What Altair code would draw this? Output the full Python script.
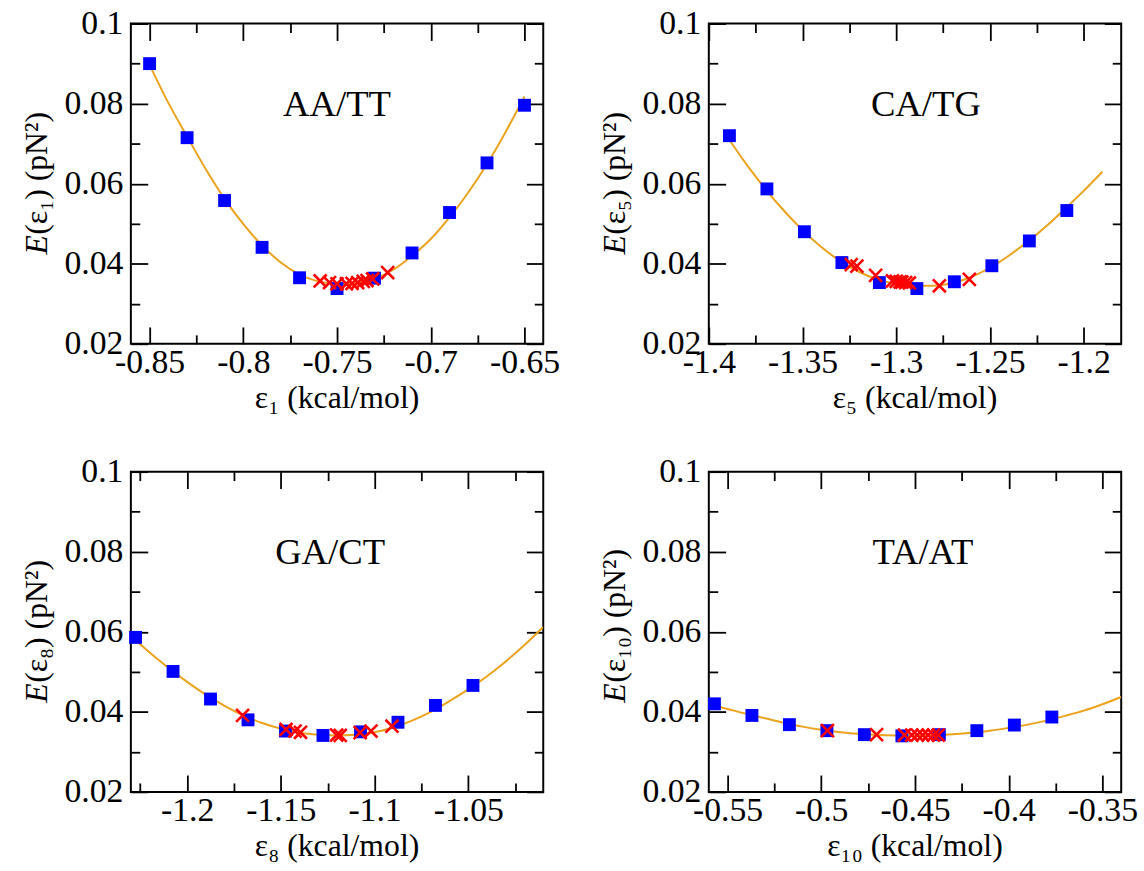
import altair as alt
import pandas as pd

FONT = "Liberation Serif"
W, H = 416, 323

# ---------------- data ----------------
# Panel 1: AA/TT
p1_sq_x = [-0.85, -0.83, -0.81, -0.79, -0.77, -0.75, -0.73, -0.71, -0.69, -0.67, -0.65]
p1_sq_y = [0.0900, 0.0715, 0.0558, 0.0441, 0.0365, 0.0338, 0.0364, 0.0427, 0.0528, 0.0652, 0.0796]
p1_cr_x = [-0.759, -0.754, -0.750, -0.745, -0.742, -0.739, -0.736, -0.734, -0.731, -0.723]
p1_cr_y = [0.0357, 0.0353, 0.0350, 0.0350, 0.0351, 0.0353, 0.0356, 0.0358, 0.0362, 0.0378]
p1_fit_x = [-0.85, -0.84, -0.83, -0.82, -0.81, -0.80, -0.79, -0.78, -0.77, -0.76, -0.75,
            -0.74, -0.73, -0.72, -0.71, -0.70, -0.69, -0.68, -0.67, -0.66, -0.65]
p1_fit_y = [0.0897, 0.0802, 0.0718, 0.0636, 0.0562, 0.0499, 0.0446, 0.0403, 0.0373, 0.0356, 0.0350,
            0.0352, 0.0363, 0.0385, 0.0420, 0.0462, 0.0516, 0.0578, 0.0649, 0.0730, 0.0818]

# Panel 2: CA/TG
p2_sq_x = [-1.389, -1.369, -1.349, -1.329, -1.309, -1.289, -1.269, -1.249, -1.229, -1.209]
p2_sq_y = [0.0720, 0.0587, 0.0480, 0.0403, 0.0353, 0.0338, 0.0355, 0.0395, 0.0457, 0.0533]
p2_cr_x = [-1.324, -1.321, -1.311, -1.302, -1.300, -1.298, -1.297, -1.295, -1.293, -1.277, -1.261]
p2_cr_y = [0.0398, 0.0394, 0.0371, 0.0357, 0.0356, 0.0355, 0.0354, 0.0353, 0.0352, 0.0345, 0.0361]
p2_fit_x = [-1.39, -1.38, -1.37, -1.36, -1.35, -1.34, -1.33, -1.32, -1.31, -1.30, -1.29,
            -1.28, -1.27, -1.26, -1.25, -1.24, -1.23, -1.22, -1.21, -1.20, -1.19]
p2_fit_y = [0.0716, 0.0649, 0.0588, 0.0533, 0.0484, 0.0442, 0.0407, 0.0380, 0.0361, 0.0350, 0.0345,
            0.0345, 0.0352, 0.0367, 0.0390, 0.0420, 0.0455, 0.0494, 0.0537, 0.0582, 0.0630]

# Panel 3: GA/CT
p3_sq_x = [-1.2275, -1.2075, -1.1875, -1.1675, -1.1475, -1.1275, -1.1075, -1.0875, -1.0675, -1.0475]
p3_sq_y = [0.0586, 0.0501, 0.0432, 0.0380, 0.0352, 0.0341, 0.0350, 0.0374, 0.0416, 0.0466]
p3_cr_x = [-1.1704, -1.1472, -1.1424, -1.1395, -1.1202, -1.1183, -1.1077, -1.1019, -1.0907]
p3_cr_y = [0.0391, 0.0356, 0.0352, 0.0349, 0.0342, 0.0341, 0.0348, 0.0352, 0.0364]
p3_fit_x = [-1.23, -1.22, -1.21, -1.20, -1.19, -1.18, -1.17, -1.16, -1.15, -1.14, -1.13, -1.12,
            -1.11, -1.10, -1.09, -1.08, -1.07, -1.06, -1.05, -1.04, -1.03, -1.02, -1.01]
p3_fit_y = [0.0590, 0.0548, 0.0510, 0.0475, 0.0443, 0.0415, 0.0391, 0.0372, 0.0358, 0.0348, 0.0343, 0.0341,
            0.0343, 0.0349, 0.0361, 0.0378, 0.0400, 0.0427, 0.0456, 0.0489, 0.0526, 0.0567, 0.0612]

# Panel 4: TA/AT
p4_sq_x = [-0.557, -0.537, -0.517, -0.497, -0.477, -0.457, -0.437, -0.417, -0.397, -0.377]
p4_sq_y = [0.0420, 0.0391, 0.0368, 0.0353, 0.0343, 0.0340, 0.0343, 0.0353, 0.0367, 0.0387]
p4_cr_x = [-0.4967, -0.4705, -0.4556, -0.4517, -0.4488, -0.4459, -0.4430, -0.4401, -0.4376]
p4_cr_y = [0.0353, 0.0343, 0.0342, 0.0342, 0.0342, 0.0342, 0.0342, 0.0342, 0.0342]
p4_fit_x = [-0.56, -0.55, -0.54, -0.53, -0.52, -0.51, -0.50, -0.49, -0.48, -0.47, -0.46, -0.45,
            -0.44, -0.43, -0.42, -0.41, -0.40, -0.39, -0.38, -0.37, -0.36, -0.35, -0.34]
p4_fit_y = [0.0419, 0.0407, 0.0395, 0.0384, 0.0373, 0.0363, 0.0355, 0.0349, 0.0345, 0.0342, 0.0341, 0.0341,
            0.0342, 0.0344, 0.0348, 0.0353, 0.0360, 0.0368, 0.0378, 0.0390, 0.0403, 0.0419, 0.0437]

# axes
y_domain = [0.02, 0.1]
y_major = [0.02, 0.04, 0.06, 0.08, 0.1]
y_minor = [0.03, 0.05, 0.07, 0.09]

p1_dom = [-0.86, -0.64]
p1_major = [-0.85, -0.8, -0.75, -0.7, -0.65]
p1_minor = [-0.825, -0.775, -0.725, -0.675]
p2_dom = [-1.4, -1.18]
p2_major = [-1.4, -1.35, -1.3, -1.25, -1.2]
p2_minor = [-1.375, -1.325, -1.275, -1.225]
p3_dom = [-1.23, -1.01]
p3_major = [-1.2, -1.15, -1.1, -1.05]
p3_minor = [-1.225, -1.175, -1.125, -1.075, -1.025]
p4_dom = [-0.56, -0.34]
p4_major = [-0.55, -0.5, -0.45, -0.4, -0.35]
p4_minor = [-0.525, -0.475, -0.425, -0.375]

labels = ["AA/TT", "CA/TG", "GA/CT", "TA/AT"]
subs = ["₁", "₅", "₈", "₁₀"]
label_dx = [0, 11, -7, 8]

ORANGE = "#eba21c"
MAJ, MIN = 17, 9
FS = 32      # titles
LFS = 34     # tick labels

X_LABEL = "(datum.value < 0 ? '-' : '') + format(abs(datum.value), '~g')"
Y_LABEL = "format(datum.value, '~g')"


def ax(orient, values, size, show_labels, is_x):
    kw = dict(orient=orient, values=values, tickSize=size, offset=-size, domain=False,
              grid=False, title=None, tickColor="black", tickWidth=1.8, labels=show_labels)
    if show_labels:
        kw.update(labelFont=FONT, labelFontSize=LFS, labelColor="black", labelFlush=False,
                  labelOverlap=False, labelExpr=X_LABEL if is_x else Y_LABEL,
                  labelPadding=2 if is_x else 8)
    return alt.Axis(**kw)


def panel(i, sq_x, sq_y, cr_x, cr_y, fit_x, fit_y, dom, major, minor):
    sq = pd.DataFrame({"x": sq_x, "y": sq_y})
    cr = pd.DataFrame({"x": cr_x, "y": cr_y})
    fit = pd.DataFrame({"x": fit_x, "y": fit_y})
    xs = alt.Scale(domain=dom, zero=False, nice=False)
    ys = alt.Scale(domain=y_domain, zero=False, nice=False)

    line = alt.Chart(fit).mark_line(color=ORANGE, strokeWidth=2, interpolate="monotone", clip=True).encode(
        x=alt.X("x:Q", scale=xs, axis=ax("bottom", major, MAJ, True, True)),
        y=alt.Y("y:Q", scale=ys, axis=ax("left", y_major, MAJ, True, False)),
    )
    squares = alt.Chart(sq).mark_square(size=169, color="#0000ff", opacity=1).encode(
        x=alt.X("x:Q", scale=xs, axis=ax("bottom", minor, MIN, False, True)),
        y=alt.Y("y:Q", scale=ys, axis=ax("left", y_minor, MIN, False, False)),
    )
    crosses = alt.Chart(cr).mark_point(shape="M-1,-1L1,1M-1,1L1,-1", size=170, filled=False,
                                       stroke="#ff0000", strokeWidth=2.6, opacity=1).encode(
        x=alt.X("x:Q", scale=xs, axis=ax("top", major, MAJ, False, True)),
        y=alt.Y("y:Q", scale=ys, axis=ax("right", y_major, MAJ, False, False)),
    )
    ghost = alt.Chart(fit).mark_point(opacity=0).encode(
        x=alt.X("x:Q", scale=xs, axis=ax("top", minor, MIN, False, True)),
        y=alt.Y("y:Q", scale=ys, axis=ax("right", y_minor, MIN, False, False)),
    )
    name = alt.Chart(pd.DataFrame({"t": [labels[i]]})).mark_text(
        font=FONT, fontSize=37, color="black", align="center", baseline="alphabetic"
    ).encode(text="t:N", x=alt.value(W / 2 + label_dx[i]), y=alt.value(93))
    xtitle = alt.Chart(pd.DataFrame({"t": ["ε" + subs[i] + " (kcal/mol)"]})).mark_text(
        font=FONT, fontSize=FS, color="black", align="center", baseline="alphabetic"
    ).encode(text="t:N", x=alt.value(W / 2), y=alt.value(H + 65))
    ytitle_e = alt.Chart(pd.DataFrame({"t": ["E"]})).mark_text(
        font=FONT, fontSize=FS, fontStyle="italic", color="black", align="left",
        baseline="middle", angle=270
    ).encode(text="t:N", x=alt.value(-95), y=alt.value(233))
    ytitle_r = alt.Chart(pd.DataFrame({"t": ["(ε" + subs[i] + ") (pN²)"]})).mark_text(
        font=FONT, fontSize=FS, color="black", align="left", baseline="middle", angle=270
    ).encode(text="t:N", x=alt.value(-95), y=alt.value(213))

    return alt.layer(line, squares, crosses, ghost, name, xtitle, ytitle_e, ytitle_r).resolve_axis(
        x="independent", y="independent"
    ).properties(width=W, height=H)


c1 = panel(0, p1_sq_x, p1_sq_y, p1_cr_x, p1_cr_y, p1_fit_x, p1_fit_y, p1_dom, p1_major, p1_minor)
c2 = panel(1, p2_sq_x, p2_sq_y, p2_cr_x, p2_cr_y, p2_fit_x, p2_fit_y, p2_dom, p2_major, p2_minor)
c3 = panel(2, p3_sq_x, p3_sq_y, p3_cr_x, p3_cr_y, p3_fit_x, p3_fit_y, p3_dom, p3_major, p3_minor)
c4 = panel(3, p4_sq_x, p4_sq_y, p4_cr_x, p4_cr_y, p4_fit_x, p4_fit_y, p4_dom, p4_major, p4_minor)

chart = alt.concat(c1, c2, c3, c4, columns=2, spacing={"row": 129, "column": 167},
                   bounds="flush").properties(
    padding={"left": 20, "top": 2, "right": 5, "bottom": 5},
    background="white",
).configure_view(stroke="black", strokeWidth=2)

chart.save("out.html", embed_options={"renderer": "svg", "actions": False})
